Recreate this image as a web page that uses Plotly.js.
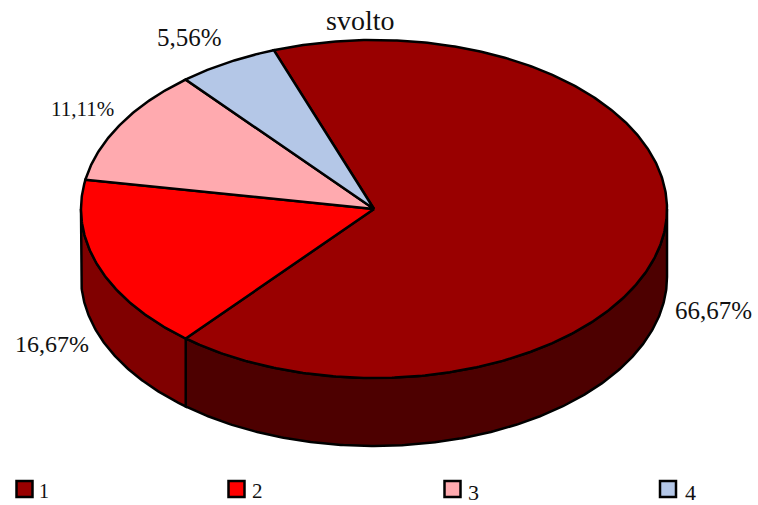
<!DOCTYPE html>
<html>
<head>
<meta charset="utf-8">
<script src="https://cdn.plot.ly/plotly-3.0.1.min.js"></script>
<style>html,body{margin:0;padding:0;background:#fff}#chart{width:758px;height:505px}</style>
</head>
<body>
<div id="chart"></div>
<script>
var categories = ['1', '2', '3', '4'];
var values = [66.67, 16.67, 11.11, 5.56];
var valueLabels = ['66,67%', '16,67%', '11,11%', '5,56%'];
var topColors = ['#990000', '#ff0000', '#ffaaaf', '#b4c7e7'];
var wallColors = ['#4d0000', '#800000', '#805557', '#5a6374'];
var chartTitle = 'svolto';

var W = 758, H = 505, cx = 374, cy = 209, rx = 293, ry = 169, depth = 68;
var startAngle = 110;
var FONT = '"Liberation Serif", serif';
var total = values.reduce(function (a, b) { return a + b; }, 0);
var outline = {color: '#000', width: 2.5};

function px(t) { return cx + rx * Math.cos(t * Math.PI / 180); }
function py(t, d) { return cy - ry * Math.sin(t * Math.PI / 180) + (d || 0); }
function arc(a, b, d) {
  var xs = [], ys = [], n = Math.max(2, Math.ceil(Math.abs(b - a) * 2));
  for (var i = 0; i <= n; i++) {
    var t = a + (b - a) * i / n;
    xs.push(px(t)); ys.push(py(t, d));
  }
  return {x: xs, y: ys};
}

var walls = [], tops = [];
var angle = startAngle;
values.forEach(function (v, i) {
  var sweep = v / total * 360;
  var from = angle, to = angle - sweep;
  angle = to;
  var top = arc(from, to, 0);
  tops.push({
    type: 'scatter', mode: 'lines', fill: 'toself', fillcolor: topColors[i],
    x: [cx].concat(top.x, [cx]), y: [cy].concat(top.y, [cy]),
    line: outline, showlegend: false, hoverinfo: 'skip'
  });
  // only the front half of the rim (angles -180..0) shows a side wall
  var lo = Math.max(to, -180), hi = Math.min(from, 0);
  if (hi > lo) {
    var upper = arc(hi, lo, 0), lower = arc(lo, hi, depth);
    walls.push({
      type: 'scatter', mode: 'lines', fill: 'toself', fillcolor: wallColors[i],
      x: upper.x.concat(lower.x, [upper.x[0]]),
      y: upper.y.concat(lower.y, [upper.y[0]]),
      line: outline, showlegend: false, hoverinfo: 'skip'
    });
  }
});

var keyX = [24.5, 236.5, 452.5, 668], keyY = 489;
var keyTextX = [44, 257.5, 473, 690], keyTextY = [491, 491, 492, 492], keySize = [20, 21, 22, 22];
var legendKeys = {
  type: 'scatter', mode: 'markers', x: keyX, y: keyX.map(function () { return keyY; }),
  marker: {symbol: 'square', size: 16, color: topColors, line: {color: '#000', width: 2.5}},
  showlegend: false, hoverinfo: 'skip'
};

var labelPos = [[713.5, 310], [51.5, 344], [82, 109], [189.5, 37]];
var labelSize = [25, 24, 21, 25];
var annotations = valueLabels.map(function (t, i) {
  return {x: labelPos[i][0], y: labelPos[i][1], xref: 'x', yref: 'y', text: t, showarrow: false,
          font: {family: FONT, size: labelSize[i], color: '#111'}};
});
annotations.push({x: 360, y: 20, xref: 'x', yref: 'y', text: chartTitle, showarrow: false,
                  font: {family: FONT, size: 28, color: '#111'}});
categories.forEach(function (c, i) {
  annotations.push({x: keyTextX[i], y: keyTextY[i], xref: 'x', yref: 'y', text: c, showarrow: false,
                    font: {family: FONT, size: keySize[i], color: '#111'}});
});

Plotly.newPlot('chart', walls.concat(tops, [legendKeys]), {
  width: W, height: H,
  margin: {l: 0, r: 0, t: 0, b: 0},
  paper_bgcolor: '#fff', plot_bgcolor: '#fff',
  xaxis: {range: [0, W], visible: false, fixedrange: true},
  yaxis: {range: [H, 0], visible: false, fixedrange: true},
  showlegend: false,
  annotations: annotations
}, {staticPlot: true});
</script>
</body>
</html>
